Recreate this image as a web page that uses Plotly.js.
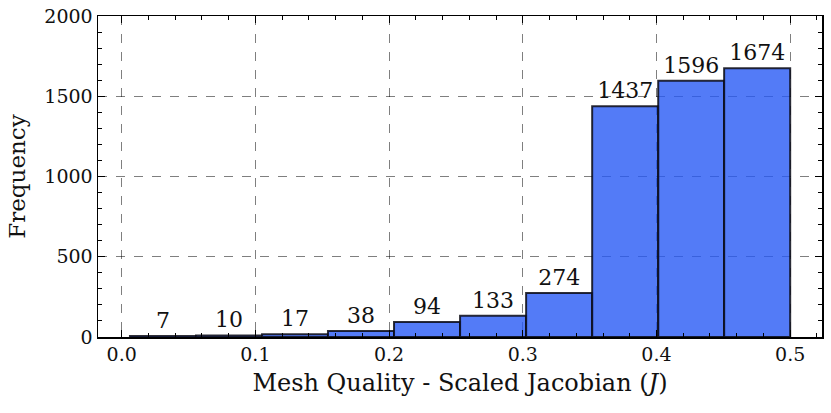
<!DOCTYPE html>
<html>
<head>
<meta charset="utf-8">
<script src="https://cdn.plot.ly/plotly-3.0.1.min.js"></script>
<style>
  html, body { margin: 0; padding: 0; background: #fff; }
  #hist-chart { width: 831px; height: 413px; }
</style>
</head>
<body>
<div id="hist-chart"></div>
<script>
(function() {
  'use strict';

  // Histogram of scaled Jacobian, 10 bins
  var binEdges = [0.0062, 0.0556, 0.1050, 0.1543, 0.2037, 0.2531, 0.3025, 0.3519, 0.4013, 0.4506, 0.5000];
  var counts = [7, 10, 17, 38, 94, 133, 274, 1437, 1596, 1674];
  var xTickVals = [0.0, 0.1, 0.2, 0.3, 0.4, 0.5];
  var xTickText = ['0.0', '0.1', '0.2', '0.3', '0.4', '0.5'];
  var yTickVals = [0, 500, 1000, 1500, 2000];

  var centers = [], widths = [];
  for (var i = 0; i < counts.length; i++) {
    centers.push((binEdges[i] + binEdges[i + 1]) / 2);
    widths.push(binEdges[i + 1] - binEdges[i]);
  }

  var serif = '"DejaVu Serif", serif';

  var histTrace = {
    type: 'bar',
    x: centers,
    y: counts,
    width: widths,
    text: counts.map(String),
    textposition: 'outside',
    cliponaxis: false,
    textfont: {family: serif, size: 22, color: '#111'},
    marker: {
      color: 'rgba(40,90,245,0.8)',
      line: {color: 'rgba(10,10,20,0.85)', width: 2}
    },
    hoverinfo: 'x+y',
    showlegend: false
  };

  var axisCommon = {
    showline: true,
    linecolor: '#000',
    linewidth: 1.5,
    mirror: 'allticks',
    ticks: 'inside',
    ticklen: 7,
    tickwidth: 1,
    tickcolor: '#000',
    showgrid: true,
    gridcolor: 'rgba(0,0,0,0.5)',
    griddash: 'dash',
    gridwidth: 1,
    zeroline: false,
    tickfont: {family: serif, size: 19, color: '#111'}
  };

  var histLayout = {
    width: 831,
    height: 413,
    margin: {l: 98, r: 9, t: 16, b: 76},
    paper_bgcolor: '#fff',
    plot_bgcolor: '#fff',
    bargap: 0,
    xaxis: Object.assign({}, axisCommon, {
      range: [-0.0177, 0.5238],
      tickvals: xTickVals,
      ticktext: xTickText,
      minor: {dtick: 0.02, ticks: 'inside', ticklen: 4, tickcolor: '#000', showgrid: false},
      title: {text: 'Mesh Quality - Scaled Jacobian (<i>J</i>)',
              font: {family: serif, size: 24, color: '#111'}, standoff: 10}
    }),
    yaxis: Object.assign({}, axisCommon, {
      range: [0, 2000],
      tickvals: yTickVals,
      minor: {dtick: 100, ticks: 'inside', ticklen: 4, tickcolor: '#000', showgrid: false},
      title: {text: 'Frequency', font: {family: serif, size: 23, color: '#111'}, standoff: 12}
    })
  };

  Plotly.newPlot('hist-chart', [histTrace], histLayout, {displayModeBar: false, staticPlot: true});
}());
</script>
</body>
</html>
